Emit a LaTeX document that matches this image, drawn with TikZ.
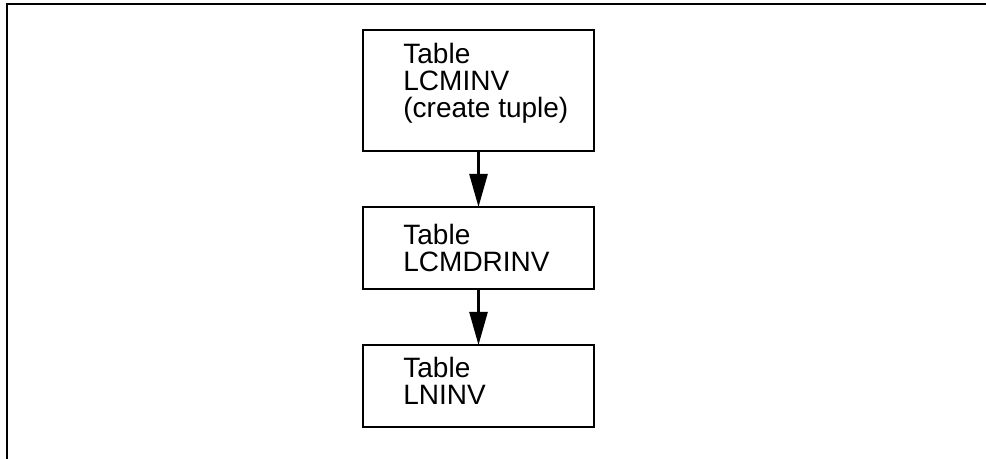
\documentclass[tikz,border=0pt]{standalone}
\usepackage{fontspec}
\setmainfont{Liberation Sans}
\usetikzlibrary{positioning,arrows.meta}

\begin{document}
\begin{tikzpicture}[x=0.5pt,y=-0.5pt,node distance=28pt,
    tbl/.style={draw,line width=0.75pt,minimum width=115.5pt,inner sep=0pt,outer sep=0pt},
    tbltext/.style={anchor=west,align=left,inner sep=0pt,font=\fontsize{14}{13.5}\selectfont},
    flow/.style={-{Triangle[length=16.5pt,width=9pt]},line width=1.25pt}]
  \useasboundingbox (0,0) rectangle (986,459);
  \draw[line width=1pt] (986,4.5) -- (7,4.5) -- (7,459);
  % the three tables
  \node[tbl,minimum height=60.5pt,anchor=north] (lcminv) at (478.5,30) {};
  \node[tbl,minimum height=41pt,below=of lcminv] (lcmdrinv) {};
  \node[tbl,minimum height=41pt,below=of lcmdrinv] (lninv) {};
  \node[tbltext] (lcminv-t) at ([xshift=20pt,yshift=3.5pt]lcminv.west) {Table\\LCMINV\\(create tuple)};
  \node[tbltext] (lcmdrinv-t) at ([xshift=20pt]lcmdrinv.west) {Table\\LCMDRINV};
  \node[tbltext] (lninv-t) at ([xshift=20pt,yshift=2.5pt]lninv.west) {Table\\LNINV};
  % flow
  \draw[flow] (lcminv) -- (lcmdrinv);
  \draw[flow] (lcmdrinv) -- (lninv);
\end{tikzpicture}
\end{document}
